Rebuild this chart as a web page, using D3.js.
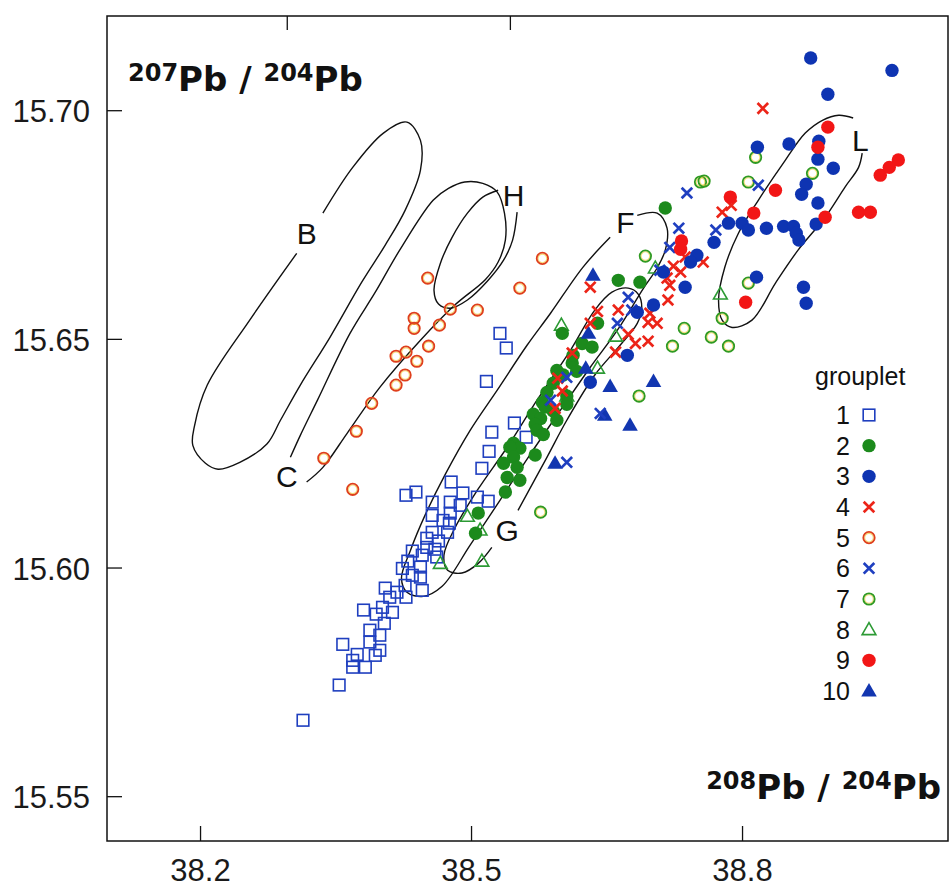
<!DOCTYPE html>
<html lang="en">
<head>
<meta charset="utf-8">
<title>Pb isotopes</title>
<style>
  body { margin: 0; background: #fff; }
  .tick text { font-family: "Liberation Sans", Arial, sans-serif; font-size: 31px; fill: #1a1a1a; }
  .tick line { stroke: #111; stroke-width: 1.3; }
</style>
<script src="https://cdn.jsdelivr.net/npm/d3@7"></script>
</head>
<body>
<script>
// ticks
var xTicks = [38.2, 38.5, 38.8];
var yTicks = [15.55, 15.60, 15.65, 15.70];
var topTicks = [38.296, 38.543];

// grouplet data: [208Pb/204Pb, 207Pb/204Pb]
var g1 = [[38.532,15.6512],[38.539,15.6480],[38.517,15.6407],[38.548,15.6316],[38.561,15.6285],[38.523,15.6296],
  [38.520,15.6254],[38.512,15.6217],[38.478,15.6187],[38.428,15.6158],[38.439,15.6165],[38.457,15.6143],
  [38.477,15.6143],[38.491,15.6163],[38.507,15.6154],[38.519,15.6145],[38.457,15.6114],[38.477,15.6119],
  [38.488,15.6136],[38.476,15.6097],[38.469,15.6103],[38.457,15.6077],[38.474,15.6077],[38.451,15.6064],
  [38.464,15.6058],[38.451,15.6044],[38.460,15.6040],[38.435,15.6036],[38.446,15.6027],[38.462,15.6023],
  [38.430,15.6014],[38.424,15.5998],[38.444,15.6001],[38.435,15.5983],[38.444,15.5979],[38.427,15.5961],
  [38.446,15.5950],[38.405,15.5955],[38.418,15.5946],[38.410,15.5935],[38.428,15.5935],[38.402,15.5913],
  [38.381,15.5907],[38.395,15.5898],[38.413,15.5902],[38.404,15.5878],[38.388,15.5863],[38.399,15.5852],
  [38.388,15.5837],[38.399,15.5819],[38.358,15.5832],[38.374,15.5810],[38.394,15.5808],[38.369,15.5797],
  [38.383,15.5782],[38.369,15.5782],[38.354,15.5743],[38.314,15.5666]];
var g2 = [[38.715,15.6786],[38.663,15.6628],[38.687,15.6624],[38.640,15.6534],[38.601,15.6512],[38.623,15.6490],
  [38.634,15.6482],[38.612,15.6447],[38.617,15.6429],[38.595,15.6431],[38.602,15.6421],[38.591,15.6403],
  [38.584,15.6383],[38.606,15.6375],[38.579,15.6361],[38.606,15.6357],[38.582,15.6351],[38.591,15.6342],
  [38.569,15.6335],[38.595,15.6322],[38.577,15.6326],[38.571,15.6313],[38.573,15.6300],[38.580,15.6291],
  [38.547,15.6272],[38.554,15.6261],[38.543,15.6263],[38.547,15.6241],[38.571,15.6246],[38.536,15.6228],
  [38.551,15.6219],[38.540,15.6197],[38.554,15.6191],[38.538,15.6165],[38.508,15.6119],[38.505,15.6075],
  [38.613,15.6464]];
var g3 = [[38.876,15.7114],[38.966,15.7087],[38.895,15.7035],[38.817,15.6919],[38.852,15.6926],[38.885,15.6932],
  [38.884,15.6893],[38.901,15.6873],[38.871,15.6838],[38.866,15.6816],[38.884,15.6797],[38.882,15.6751],
  [38.785,15.6753],[38.800,15.6753],[38.807,15.6738],[38.827,15.6742],[38.846,15.6746],[38.857,15.6746],
  [38.860,15.6731],[38.863,15.6716],[38.769,15.6711],[38.750,15.6683],[38.743,15.6668],[38.737,15.6613],
  [38.713,15.6646],[38.702,15.6574],[38.684,15.6558],[38.673,15.6464],[38.632,15.6405],[38.816,15.6635],
  [38.868,15.6613],[38.871,15.6578]];
var g4 = [[38.823,15.7004],[38.778,15.6777],[38.788,15.6792],[38.757,15.6668],[38.737,15.6679],[38.724,15.6659],
  [38.732,15.6646],[38.717,15.6633],[38.720,15.6617],[38.718,15.6585],[38.632,15.6613],[38.640,15.6560],
  [38.632,15.6534],[38.663,15.6563],[38.698,15.6556],[38.706,15.6534],[38.696,15.6536],[38.674,15.6510],
  [38.682,15.6490],[38.696,15.6495],[38.660,15.6471],[38.612,15.6469],[38.596,15.6414],[38.601,15.6386],
  [38.593,15.6348]];
var g5 = [[38.452,15.6633],[38.579,15.6676],[38.554,15.6611],[38.437,15.6545],[38.437,15.6523],[38.465,15.6530],
  [38.477,15.6565],[38.507,15.6563],[38.453,15.6484],[38.428,15.6471],[38.417,15.6462],[38.440,15.6451],
  [38.427,15.6421],[38.417,15.6399],[38.390,15.6359],[38.373,15.6298],[38.337,15.6239],[38.369,15.6171]];
var g6 = [[38.739,15.6819],[38.818,15.6836],[38.771,15.6738],[38.730,15.6742],[38.720,15.6700],[38.709,15.6650],
  [38.674,15.6591],[38.678,15.6563],[38.662,15.6534],[38.606,15.6416],[38.588,15.6366],[38.643,15.6337],
  [38.606,15.6230]];
var g7 = [[38.815,15.6897],[38.754,15.6843],[38.758,15.6845],[38.807,15.6843],[38.878,15.6862],[38.693,15.6681],
  [38.736,15.6523],[38.723,15.6484],[38.766,15.6504],[38.785,15.6484],[38.807,15.6622],[38.778,15.6545],
  [38.686,15.6375],[38.577,15.6121]];
var g8 = [[38.600,15.6530],[38.660,15.6506],[38.640,15.6436],[38.606,15.6375],[38.496,15.6112],[38.510,15.6082],
  [38.466,15.6009],[38.512,15.6014],[38.776,15.6598],[38.704,15.6655]];
var g9 = [[38.895,15.6963],[38.884,15.6919],[38.837,15.6825],[38.787,15.6810],[38.813,15.6775],[38.892,15.6766],
  [38.953,15.6858],[38.963,15.6875],[38.973,15.6891],[38.929,15.6777],[38.942,15.6777],[38.804,15.6580],
  [38.733,15.6714],[38.732,15.6696]];
var g10 = [[38.635,15.6639],[38.630,15.6512],[38.627,15.6436],[38.654,15.6396],[38.702,15.6407],[38.648,15.6333],
  [38.676,15.6311],[38.593,15.6228]];

// ore field outlines (open where the label sits)
var fieldB = [[38.336,15.6775],[38.369,15.6875],[38.403,15.6950],[38.429,15.6974],[38.444,15.6934],[38.444,15.6869],
  [38.427,15.6781],[38.405,15.6705],[38.379,15.6624],[38.344,15.6504],[38.311,15.6399],[38.289,15.6322],
  [38.274,15.6270],[38.244,15.6230],[38.220,15.6215],[38.206,15.6228],[38.192,15.6267],[38.194,15.6311],
  [38.208,15.6399],[38.255,15.6541],[38.307,15.6687]];
var fieldC = [[38.300,15.6241],[38.311,15.6289],[38.330,15.6366],[38.366,15.6512],[38.394,15.6602],[38.421,15.6694],
  [38.458,15.6803],[38.475,15.6829],[38.493,15.6843],[38.513,15.6840],[38.529,15.6821],[38.537,15.6775],
  [38.538,15.6716],[38.530,15.6668],[38.516,15.6630],[38.482,15.6574],[38.444,15.6497],[38.399,15.6394],
  [38.363,15.6294],[38.336,15.6219],[38.318,15.6187]];
var fieldH = [[38.530,15.6825],[38.513,15.6810],[38.496,15.6775],[38.479,15.6722],[38.466,15.6665],[38.459,15.6606],
  [38.464,15.6576],[38.477,15.6567],[38.496,15.6585],[38.518,15.6626],[38.536,15.6672],[38.546,15.6716],
  [38.551,15.6777]];
var fieldF = [[38.684,15.6770],[38.706,15.6775],[38.717,15.6742],[38.715,15.6694],[38.706,15.6655],[38.691,15.6611],
  [38.662,15.6519],[38.632,15.6438],[38.599,15.6344],[38.565,15.6246],[38.532,15.6147],[38.499,15.6049],
  [38.468,15.5959],[38.447,15.5937],[38.429,15.5946],[38.423,15.5977],[38.433,15.6038],[38.449,15.6114],
  [38.471,15.6202],[38.499,15.6300],[38.529,15.6388],[38.562,15.6486],[38.588,15.6556],[38.624,15.6657],
  [38.654,15.6722]];
var fieldG = [[38.552,15.6125],[38.584,15.6241],[38.606,15.6322],[38.637,15.6421],[38.665,15.6486],[38.684,15.6534],
  [38.689,15.6567],[38.685,15.6598],[38.674,15.6611],[38.656,15.6602],[38.637,15.6563],[38.610,15.6475],
  [38.573,15.6366],[38.540,15.6263],[38.507,15.6169],[38.482,15.6086],[38.470,15.6027],[38.474,15.5994],
  [38.490,15.5988],[38.508,15.6009],[38.523,15.6044]];
var fieldL = [[38.923,15.6983],[38.907,15.6989],[38.889,15.6978],[38.870,15.6950],[38.848,15.6891],[38.818,15.6803],
  [38.796,15.6731],[38.781,15.6657],[38.774,15.6585],[38.778,15.6541],[38.789,15.6525],[38.811,15.6541],
  [38.837,15.6622],[38.862,15.6694],[38.892,15.6766],[38.914,15.6832],[38.929,15.6875],[38.933,15.6906]];
var fieldLabels = [["B",38.318,15.6731],["C",38.296,15.6200],["H",38.547,15.6814],
  ["F",38.671,15.6755],["G",38.540,15.6082],["L",38.931,15.6934]];

var w = 950, h = 888;
var plotL = 107, plotR = 948, plotT = 16, plotB = 841;

var svg = d3.select("body").append("svg")
    .attr("width", w)
    .attr("height", h);

var x = d3.scaleLinear().domain([38.097, 39.028]).range([plotL, plotR]);
var y = d3.scaleLinear().domain([15.5402, 15.7206]).range([plotB, plotT]);

// axes, ticks point inward
svg.append("g")
    .attr("transform", "translate(0," + plotB + ")")
    .call(d3.axisBottom(x).tickValues(xTicks).tickFormat(d3.format(".1f"))
        .tickSizeInner(-15).tickSizeOuter(0).tickPadding(18))
    .call(g => g.select(".domain").remove());
svg.append("g")
    .attr("transform", "translate(" + plotL + ",0)")
    .call(d3.axisLeft(y).tickValues(yTicks).tickFormat(d3.format(".2f"))
        .tickSizeInner(-15).tickSizeOuter(0).tickPadding(17))
    .call(g => g.select(".domain").remove())
    .call(g => g.selectAll("text").attr("dy", "0.38em"));
svg.append("g")
    .attr("transform", "translate(0," + plotT + ")")
    .call(d3.axisTop(x).tickValues(topTicks).tickFormat("")
        .tickSizeInner(-14).tickSizeOuter(0))
    .call(g => g.select(".domain").remove());

svg.append("rect")
    .attr("x", plotL).attr("y", plotT)
    .attr("width", plotR - plotL).attr("height", plotB - plotT)
    .attr("fill", "none").attr("stroke", "#111").attr("stroke-width", 1.5);

// field outlines
var line = d3.line().x(d => x(d[0])).y(d => y(d[1])).curve(d3.curveCatmullRom.alpha(0.5));
svg.append("g").selectAll("path")
    .data([fieldB, fieldC, fieldH, fieldF, fieldG, fieldL])
    .join("path")
    .attr("d", line)
    .attr("fill", "none")
    .attr("stroke", "#111")
    .attr("stroke-width", 1.4);

svg.append("g").selectAll("text")
    .data(fieldLabels)
    .join("text")
    .attr("x", d => x(d[1]))
    .attr("y", d => y(d[2]))
    .attr("dy", "0.36em")
    .attr("text-anchor", "middle")
    .attr("font-family", "Liberation Sans, Arial, sans-serif")
    .attr("font-size", "30px")
    .attr("fill", "#111")
    .text(d => d[0]);

// markers
var groups = [
  {id: 1, shape: "square", color: "#1f3fbf", data: g1},
  {id: 2, shape: "dot", color: "#1c8a1c", data: g2},
  {id: 3, shape: "dot", color: "#0e34b2", data: g3},
  {id: 4, shape: "cross", color: "#ec2418", data: g4},
  {id: 5, shape: "ring", color: "#df3f1c", data: g5},
  {id: 6, shape: "cross", color: "#1f3fc0", data: g6},
  {id: 7, shape: "ring", color: "#2f9a22", data: g7},
  {id: 8, shape: "tri", color: "#2c9a34", data: g8},
  {id: 9, shape: "dot", color: "#f21616", data: g9},
  {id: 10, shape: "trifill", color: "#1236b0", data: g10}
];

function mark(sel, grp) {
  var c = grp.color;
  if (grp.shape == "square") {
    sel.append("rect").attr("x", -5.8).attr("y", -5.8).attr("width", 11.6).attr("height", 11.6)
      .attr("fill", "none").attr("stroke", c).attr("stroke-width", 1.6);
  } else if (grp.shape == "dot") {
    sel.append("circle").attr("r", 6.7).attr("fill", c);
  } else if (grp.shape == "cross") {
    sel.append("path").attr("d", "M-5.3,-5.3L5.3,5.3M-5.3,5.3L5.3,-5.3")
      .attr("stroke", c).attr("stroke-width", 2.7).attr("fill", "none");
  } else if (grp.shape == "ring") {
    sel.append("circle").attr("r", 4.3).attr("fill", "none")
      .attr("stroke", "#f2cf3a").attr("stroke-width", 1.1).attr("opacity", 0.7);
    sel.append("circle").attr("r", 5.7).attr("fill", "none")
      .attr("stroke", c).attr("stroke-width", 1.8);
  } else if (grp.shape == "tri") {
    sel.append("path").attr("d", d3.symbol(d3.symbolTriangle, 82)())
      .attr("transform", "translate(0,1)")
      .attr("fill", "none").attr("stroke", c).attr("stroke-width", 1.6);
  } else {
    sel.append("path").attr("d", d3.symbol(d3.symbolTriangle, 105)())
      .attr("transform", "translate(0,1)")
      .attr("fill", c);
  }
}

var drawOrder = [1, 5, 7, 8, 2, 10, 4, 6, 3, 9];
drawOrder.forEach(function(id) {
  var grp = groups.find(g => g.id == id);
  svg.append("g").selectAll("g")
      .data(grp.data)
      .join("g")
      .attr("transform", d => "translate(" + x(d[0]) + "," + y(d[1]) + ")")
      .each(function() { mark(d3.select(this), grp); });
});

// legend
var legend = svg.append("g").attr("font-family", "Liberation Sans, Arial, sans-serif");
legend.append("text")
    .attr("x", 815).attr("y", 385)
    .attr("font-size", "25px").attr("fill", "#111")
    .text("grouplet");
var ly = d3.scalePoint().domain(groups.map(g => g.id)).range([415, 691]);
var row = legend.selectAll("g.row")
    .data(groups)
    .join("g")
    .attr("class", "row")
    .attr("transform", d => "translate(0," + ly(d.id) + ")");
row.append("text")
    .attr("x", 850).attr("dy", "0.36em")
    .attr("text-anchor", "end")
    .attr("font-size", "25px").attr("fill", "#111")
    .text(d => d.id);
row.append("g")
    .attr("transform", "translate(869,0)")
    .each(function(d) { mark(d3.select(this), d); });

// axis titles
function isoTitle(t, a, b) {
  t.attr("font-family", "DejaVu Sans, sans-serif").attr("font-weight", "bold").attr("fill", "#111");
  t.append("tspan").attr("font-size", "24px").attr("dy", -10).text(a);
  t.append("tspan").attr("font-size", "34px").attr("dy", 10).text("Pb / ");
  t.append("tspan").attr("font-size", "24px").attr("dy", -10).text(b);
  t.append("tspan").attr("font-size", "34px").attr("dy", 10).text("Pb");
}
isoTitle(svg.append("text").attr("x", 128).attr("y", 91), "207", "204");
isoTitle(svg.append("text").attr("x", 941).attr("y", 799).attr("text-anchor", "end"), "208", "204");
</script>
</body>
</html>
